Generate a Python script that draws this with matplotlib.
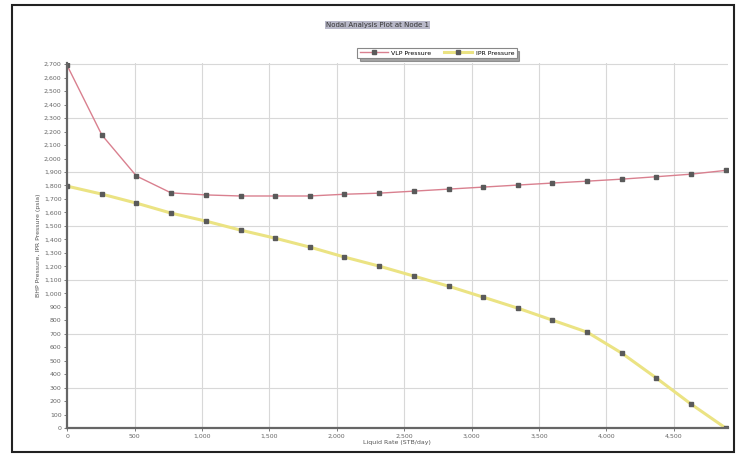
import numpy as np
import matplotlib
matplotlib.use("Agg")
import matplotlib.pyplot as plt
from matplotlib.ticker import MultipleLocator, FuncFormatter
from matplotlib.patches import Rectangle

# 数据：流量与两条压力曲线
rate = [0, 257, 514, 771, 1028, 1286, 1543, 1800, 2057, 2314,
        2572, 2829, 3086, 3343, 3600, 3858, 4115, 4372, 4629, 4886]
vlp_pressure = [2690, 2175, 1870, 1745, 1730, 1722, 1722, 1722, 1735, 1743,
                1758, 1773, 1788, 1803, 1818, 1832, 1847, 1865, 1884, 1912]
ipr_pressure = [1795, 1736, 1669, 1595, 1536, 1469, 1409, 1343, 1269, 1202,
                1128, 1053, 972, 890, 801, 712, 556, 371, 178, 0]

title_text = "Nodal Analysis Plot at Node 1"
labels = ["VLP Pressure", "IPR Pressure"]

fig = plt.figure(figsize=(7.38, 4.55), dpi=100)
ax = fig.add_axes([0.091, 0.059, 0.895, 0.803])

# 外框
fig.patches.append(Rectangle((0.016, 0.007), 0.978, 0.982, transform=fig.transFigure,
                             fill=False, edgecolor='#222222', linewidth=1.5))

# 网格
for xv in np.arange(500, 5000, 500):
    ax.axvline(xv, color='#d8d8d8', linewidth=0.8, zorder=0)
for yv in np.arange(300, 2800, 400):
    ax.axhline(yv, color='#d8d8d8', linewidth=0.8, zorder=0)

# 曲线
ax.plot(rate, vlp_pressure, color='#d9808f', linewidth=1.0, zorder=2,
        marker='s', markersize=3.5, markerfacecolor='#5a5a5a', markeredgecolor='#5a5a5a',
        label=labels[0])
ax.plot(rate, ipr_pressure, color='#ebe383', linewidth=2.2, zorder=2,
        marker='s', markersize=3.5, markerfacecolor='#5a5a5a', markeredgecolor='#5a5a5a',
        label=labels[1])

ax.set_xlim(0, 4900)
ax.set_ylim(0, 2710)
ax.xaxis.set_major_locator(MultipleLocator(500))
ax.yaxis.set_major_locator(MultipleLocator(100))
fmt = FuncFormatter(lambda v, p: "{:,}".format(int(round(v))))
ax.xaxis.set_major_formatter(fmt)
ax.yaxis.set_major_formatter(fmt)
ax.tick_params(labelsize=4.5, colors='#666666', length=2, width=0.6, pad=2)

for s in ['top', 'right']:
    ax.spines[s].set_visible(False)
for s in ['left', 'bottom']:
    ax.spines[s].set_color('#666666')
    ax.spines[s].set_linewidth(1.6)

ax.set_xlabel("Liquid Rate (STB/day)", fontsize=4.5, color='#555555', labelpad=1)
ax.set_ylabel("BHP Pressure, IPR Pressure (psia)", fontsize=4.5, color='#555555', labelpad=2)

# 标题与图例
fig.text(0.512, 0.945, title_text, fontsize=5, color='#333333', ha='center', va='center',
         bbox=dict(boxstyle='square,pad=0.15', facecolor='#b8b8c8', edgecolor='none'))
leg = ax.legend(loc='lower center', bbox_to_anchor=(0.56, 1.005), ncol=2, fontsize=4.5,
                frameon=True, fancybox=False, shadow=True, edgecolor='#888888',
                handlelength=4.5, borderpad=0.35, columnspacing=2.0, handletextpad=0.6)
leg.get_frame().set_linewidth(0.8)

plt.savefig("out.png", dpi=100)
